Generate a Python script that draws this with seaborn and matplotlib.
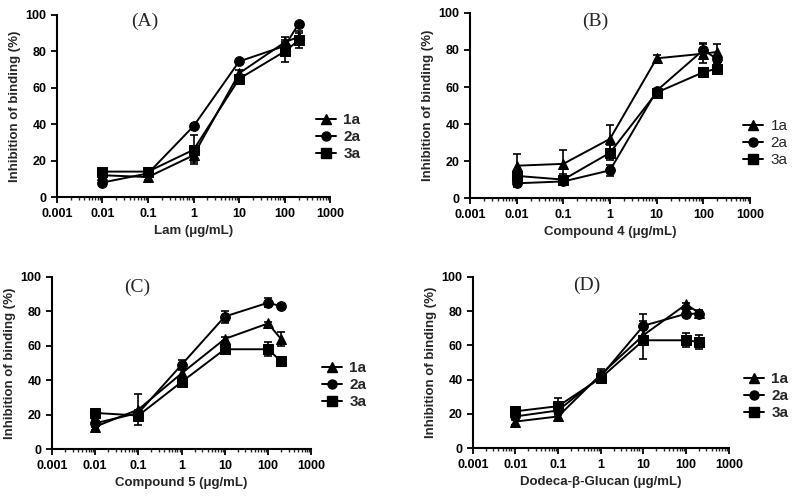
import numpy as np
import pandas as pd
import matplotlib
matplotlib.use("Agg")
import matplotlib.pyplot as plt
import seaborn as sb
from matplotlib.ticker import LogLocator, NullFormatter

# concentrations (ug/mL)
conc = [0.01, 0.1, 1, 10, 100, 200]
series_names = ["1a", "2a", "3a"]

# panel A - Lam
a_1a = [12, 11, 23, 68, 85, 88]
a_2a = [8, 13, 39, 74.5, 83, 95]
a_3a = [14, 14, 26, 65, 80, 86]
a_err_1a = [1.5, 1.5, 4, 2, 3, 3]
a_err_2a = [1, 1.5, 1, 1, 2, 1]
a_err_3a = [1.5, 1.5, 8, 2, 6, 4]

# panel B - Compound 4
b_1a = [17.5, 18.5, 32, 75.5, 78, 79]
b_2a = [8, 9, 15, 58, 80, 75]
b_3a = [12, 10, 24.5, 57, 68, 70]
b_err_1a = [6.5, 7.5, 7.5, 2, 5, 4]
b_err_2a = [2, 2, 3, 1, 4, 2]
b_err_3a = [3, 3, 4, 2, 2, 2]

# panel C - Compound 5
c_1a = [13, 23, 44, 64, 73, 64]
c_2a = [15, 21, 49, 77, 85, 83]
c_3a = [21, 19.5, 39, 58, 58, 51]
c_err_1a = [2, 9, 3, 1, 1, 4]
c_err_2a = [2, 2, 3, 3.5, 2.5, 1]
c_err_3a = [1.5, 2, 3, 1, 4, 1]

# panel D - Dodeca-beta-Glucan
d_1a = [15.5, 18.5, 43, 66, 84, 79]
d_2a = [18.5, 22, 42, 71.5, 78.5, 78.5]
d_3a = [21.5, 24.5, 41, 63, 63, 62]
d_err_1a = [2, 2, 3, 3, 1, 1]
d_err_2a = [2, 2, 3, 7, 2, 2]
d_err_3a = [2, 5, 3, 11, 4, 4]

panels = [
    ("(A)", "Lam (\u03bcg/mL)", [a_1a, a_2a, a_3a], [a_err_1a, a_err_2a, a_err_3a]),
    ("(B)", "Compound 4 (\u03bcg/mL)", [b_1a, b_2a, b_3a], [b_err_1a, b_err_2a, b_err_3a]),
    ("(C)", "Compound 5 (\u03bcg/mL)", [c_1a, c_2a, c_3a], [c_err_1a, c_err_2a, c_err_3a]),
    ("(D)", "Dodeca-\u03b2-Glucan (\u03bcg/mL)", [d_1a, d_2a, d_3a], [d_err_1a, d_err_2a, d_err_3a]),
]

# axes positions [left, bottom, width, height] in figure fraction
positions = [
    [0.071, 0.605, 0.342, 0.365],
    [0.5875, 0.603, 0.350, 0.371],
    [0.065, 0.100, 0.324, 0.345],
    [0.591, 0.102, 0.320, 0.343],
]
legend_anchor = [(0.395, 0.7255), (0.929, 0.713), (0.4025, 0.228), (0.93, 0.206)]
legend_weight = ["bold", "normal", "bold", "bold"]
title_pos = [(0.181, 0.958), (0.744, 0.958), (0.171, 0.425), (0.734, 0.429)]

markers = {"1a": "^", "2a": "o", "3a": "s"}

sb.set_style("ticks")
plt.rcParams["font.family"] = ["Liberation Sans", "DejaVu Sans"]

fig = plt.figure(figsize=(8.0, 4.99), dpi=100)

for i, (title, xlabel, vals, errs) in enumerate(panels):
    ax = fig.add_axes(positions[i])
    rows = []
    for name, v in zip(series_names, vals):
        for x, y in zip(conc, v):
            rows.append({"conc": x, "value": y, "series": name})
    df = pd.DataFrame(rows)
    for name, v, e in zip(series_names, vals, errs):
        ax.errorbar(conc, v, yerr=e, fmt="none", ecolor="black", elinewidth=1.2,
                    capsize=3, capthick=1.2, zorder=2)
    sb.lineplot(data=df, x="conc", y="value", style="series", markers=markers,
                dashes=False, color="black", markersize=7, linewidth=1.4,
                markeredgecolor="black", ax=ax, legend=False, zorder=3)
    ax.set_xscale("log")
    ax.set_xlim(0.001, 1000)
    ax.set_ylim(0, 100)
    ax.set_xticks([0.001, 0.01, 0.1, 1, 10, 100, 1000])
    ax.set_xticklabels(["0.001", "0.01", "0.1", "1", "10", "100", "1000"])
    ax.xaxis.set_minor_locator(LogLocator(base=10, subs=np.arange(2, 10)))
    ax.xaxis.set_minor_formatter(NullFormatter())
    ax.set_yticks([0, 20, 40, 60, 80, 100])
    ax.tick_params(axis="both", which="major", direction="out", length=4, width=1.3,
                   labelsize=9, colors="black")
    ax.tick_params(axis="x", which="minor", direction="out", length=2.5, width=1)
    for lab in ax.get_xticklabels() + ax.get_yticklabels():
        lab.set_fontweight("bold")
    for s in ["left", "bottom"]:
        ax.spines[s].set_linewidth(1.5)
        ax.spines[s].set_color("black")
    sb.despine(ax=ax)
    ax.set_xlabel(xlabel, fontsize=9.5, fontweight="bold", labelpad=4)
    ax.set_ylabel("Inhibition of binding (%)", fontsize=9.5, fontweight="bold", labelpad=3)

    handles = [plt.Line2D([], [], color="black", marker=markers[n], markersize=6.5,
                          linewidth=1.4) for n in series_names]
    fig.legend(handles, series_names, loc="center left", bbox_to_anchor=legend_anchor[i],
               frameon=False, handlelength=1.3, handletextpad=0.5, borderpad=0,
               borderaxespad=0, labelspacing=0.2,
               prop={"weight": legend_weight[i], "size": 11})
    fig.text(title_pos[i][0], title_pos[i][1], title, ha="center", va="center",
             fontsize=14, family=["Liberation Serif", "DejaVu Serif"])

fig.savefig("out.png", dpi=100)
